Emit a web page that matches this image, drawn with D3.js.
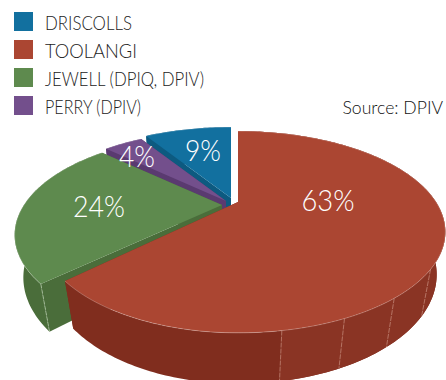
<!DOCTYPE html>
<html>
<head>
<meta charset="utf-8">
<script src="https://cdn.jsdelivr.net/npm/d3@7"></script>
<style>
html,body{margin:0;padding:0;background:#fff;overflow:hidden}
svg{display:block}
text{font-family:Lato,"Open Sans",sans-serif;font-weight:300}
</style>
</head>
<body>
<svg id="chart" width="446" height="380"></svg>
<script>
// Chart content
const categories = ["DRISCOLLS", "TOOLANGI", "JEWELL (DPIQ, DPIV)", "PERRY (DPIV)"];
const shares = [9, 63, 24, 4];
const shareLabels = ["9%", "63%", "24%", "4%"];
const sourceNote = "Source: DPIV";

// Colours per category
const topColors = ["#12709f", "#ab4632", "#5e8a4e", "#734f8c"];
const wallColors = ["#0d5a80", "#802d1e", "#4a6d3a", "#5a3a70"];
const facetColor = "#8a3424";

// Layout of the tilted disc
const disc = {rx: 198, ry: 92, tilt: 0.297, depth: 43, depthShrink: 0.04};
const apexes = [[231, 198], [238, 202], [222, 205], [226, 201]];
const leftScale = [1, 0.955, 1, 1];
const labelPos = [[203, 149], [328, 199], [99, 205], [137, 155]];
const legendWidths = [87, 92, 159, 96];
const paintOrder = [0, 3, 2, 1];
// Panel seams on the red wall, in degrees round the disc
const redSeams = [127, 143, 157, 171];

const svg = d3.select("#chart");

// Project a point of the unit disc, level 0 = top face, level 1 = bottom face
function project(angle, radius, level, i) {
  const x = Math.sin(angle) * radius, y = -Math.cos(angle) * radius;
  const w = 1 - disc.tilt * y + disc.depthShrink * level;
  const rx = x < 0 ? disc.rx * leftScale[i] : disc.rx;
  return [apexes[i][0] + rx * x / w, apexes[i][1] + (disc.ry * y + disc.depth * level) / w];
}

const pie = d3.pie().sort(null).value(d => d)
  .startAngle(-shares[0] / 100 * 2 * Math.PI)
  .endAngle(2 * Math.PI - shares[0] / 100 * 2 * Math.PI);
const arcs = pie(shares);
const line = d3.line();
const rad = d => d * Math.PI / 180;

function arcAngles(a0, a1) {
  const n = Math.max(2, Math.ceil((a1 - a0) / rad(1)));
  return d3.range(n + 1).map(i => a0 + (a1 - a0) * i / n);
}
function wall(a0, a1, i) {
  const as = arcAngles(a0, a1);
  return line(as.map(a => project(a, 1, 0, i))
    .concat(as.slice().reverse().map(a => project(a, 1, 1, i)))) + "Z";
}

paintOrder.forEach(i => {
  const s = arcs[i];
  const g = svg.append("g");
  // Radial cut faces
  [s.startAngle, s.endAngle].forEach(a => {
    g.append("path")
      .attr("d", line([project(a, 0, 0, i), project(a, 1, 0, i), project(a, 1, 1, i), project(a, 0, 1, i)]) + "Z")
      .attr("fill", wallColors[i]);
  });
  // Outer wall
  g.append("path").attr("d", wall(s.startAngle, s.endAngle, i)).attr("fill", wallColors[i]);
  if (i === 1) {
    // Lighter facets right of the first seam, with their seam lines
    g.append("path").attr("d", wall(s.startAngle, rad(redSeams[3]), i)).attr("fill", facetColor);
    redSeams.forEach(d => {
      g.append("path")
        .attr("d", line([project(rad(d), 1, 0, i), project(rad(d), 1, 1, i)]))
        .attr("stroke", "#c98f80").attr("stroke-width", 0.7).attr("stroke-dasharray", "5 1").attr("fill", "none");
    });
  }
  if (i === 2) {
    // Corner seam of the green wedge
    g.append("path")
      .attr("d", line([project(s.startAngle, 1, 0, i), project(s.startAngle, 1, 1, i)]))
      .attr("stroke", "#b7cdae").attr("stroke-width", 0.7).attr("stroke-dasharray", "4 1.5").attr("fill", "none");
  }
  // Top face
  const rim = arcAngles(s.startAngle, s.endAngle).map(a => project(a, 1, 0, i));
  g.append("path")
    .attr("d", line([project(0, 0, 0, i)].concat(rim)) + "Z")
    .attr("fill", topColors[i]);
  // Soft highlight along the rim
  g.append("path").attr("d", line(rim)).attr("fill", "none")
    .attr("stroke", "#fff").attr("stroke-opacity", 0.35).attr("stroke-width", 0.7);
});

// Percentage labels
svg.selectAll("text.share").data(shareLabels).join("text")
  .attr("class", "share")
  .attr("x", (d, i) => labelPos[i][0])
  .attr("y", (d, i) => labelPos[i][1])
  .attr("text-anchor", "middle").attr("dominant-baseline", "central")
  .attr("font-size", 30).attr("fill", "#fff")
  .attr("textLength", (d, i) => [36, 53, 52, 36][i]).attr("lengthAdjust", "spacingAndGlyphs")
  .text(d => d);

// Legend
const legend = svg.selectAll("g.key").data(categories).join("g")
  .attr("class", "key")
  .attr("transform", (d, i) => `translate(14,${12 + i * 28})`);
legend.append("rect").attr("width", 19).attr("height", 19).attr("fill", (d, i) => topColors[i]);
legend.append("text").attr("x", 31).attr("y", 10).attr("dominant-baseline", "central")
  .attr("font-size", 19).attr("fill", "#222")
  .attr("textLength", (d, i) => legendWidths[i]).attr("lengthAdjust", "spacingAndGlyphs")
  .text(d => d);

svg.append("text").attr("x", 443).attr("y", 107).attr("text-anchor", "end")
  .attr("dominant-baseline", "central").attr("font-size", 17.6).attr("fill", "#111").text(sourceNote);
</script>
</body>
</html>
